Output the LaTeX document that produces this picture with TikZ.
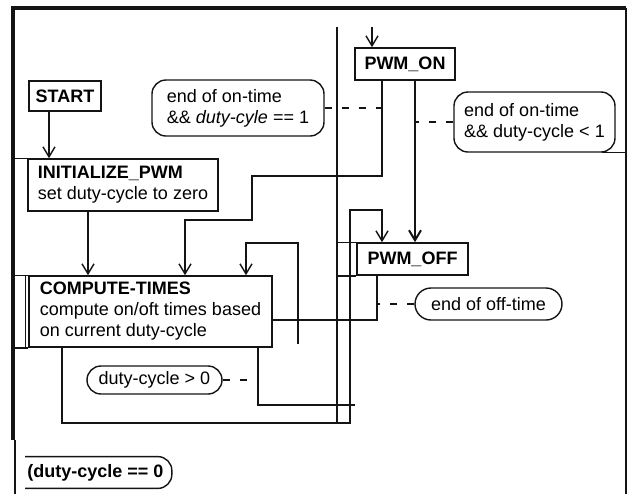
\documentclass[tikz,border=0pt]{standalone}
\usepackage{fontspec}
\setmainfont{Liberation Sans}
\usetikzlibrary{arrows.meta,calc}
\definecolor{ink}{RGB}{20,20,20}

\begin{document}
\begin{tikzpicture}[
  x=0.5pt,y=-0.5pt,
  font=\fontsize{9}{10.5}\selectfont,
  state/.style={rectangle,draw=ink,line width=0.8pt,align=left,inner sep=2pt},
  guard/.style={rectangle,rounded corners=7pt,draw=ink,line width=0.7pt,align=left,inner sep=2pt},
  arrow/.style={-{Straight Barb[length=5pt,width=6pt]},line width=0.7pt,draw=ink},
  wire/.style={line width=0.7pt,draw=ink},
  hint/.style={draw=ink,line width=0.6pt,dash pattern=on 3.5pt off 5pt}
]
\useasboundingbox (0,0) rectangle (628,494);

% frame
\draw[ink,line width=2pt] (13,440) -- (13,8) -- (626,8);
\draw[ink,line width=1pt] (626,8) -- (626,494);
\draw[ink,line width=0.8pt] (15,440) -- (15,494);

% states
\node[state,minimum width=36pt,minimum height=15pt,align=center] (start) at (65,96) {\bfseries START};
\node[state,minimum width=95pt,minimum height=26pt] (init) at (123,185) {\textbf{INITIALIZE\_PWM}\\set duty-cycle to zero};
\node[state,minimum width=121.5pt,minimum height=35.5pt] (compute) at (150.5,311.5) {\textbf{COMPUTE-TIMES}\\compute on/oft times based\\on current duty-cycle};
\node[state,minimum width=50pt,minimum height=16pt,align=center] (on) at (405,64) {\bfseries PWM\_ON};
\node[state,minimum width=55.5pt,minimum height=16pt,align=center] (off) at (412.5,259) {\bfseries PWM\_OFF};

% guards
\node[guard,minimum width=86pt,minimum height=28pt] (full) at (238,108) {end of on-time\\\&\& \textit{duty-cyle} == 1};
\node[guard,minimum width=80.5pt,minimum height=30pt] (part) at (534.5,122) {end of on-time\\\&\& duty-cycle < 1};
\node[guard,minimum width=73.5pt,minimum height=16pt,rounded corners=8pt] (offtime) at (488.5,304) {end of off-time};
\node[guard,minimum width=67.5pt,minimum height=14pt] (nonzero) at (154.5,380) {duty-cycle > 0};
\node[anchor=west,inner xsep=4pt,minimum height=15.5pt,font=\fontsize{9}{10.5}\selectfont\bfseries] (zero) at (19,472.5) {(duty-cycle == 0};
\draw[wire,rounded corners=7pt] ([xshift=3pt]zero.north west) -| (zero.south east) -- ([xshift=3pt]zero.south west);

% box edges carried out to the lanes
\draw[wire] (init.north west) -- (init.north west -| 13,0);
\draw[wire] (compute.north west) -- (compute.north west -| 13,0);
\draw[wire] (compute.south west) -- (compute.south west -| 13,0);
\draw[wire] ([xshift=-1.5pt]compute.north west) -- ([xshift=-1.5pt]compute.south west);
\draw[wire] (off.north west) -- (off.north west -| 337,0);
\draw[wire] (off.south west) -- (off.south west -| 337,0);
\draw[wire] ([xshift=-7pt]part.south east) -- (part.south east -| 626,0);

% transitions
\coordinate (entry) at (372,27);
\draw[arrow] (start.south -| 49,0) -- (init.north -| 49,0);
\draw[arrow] (init.south -| 88,0) -- (compute.north -| 88,0);
\draw[arrow] (entry) -- (on.north -| entry);
\draw[wire] (entry -| 337,0) -- (337,423);
\draw[arrow] (on.south -| 382,0) -- (382,176) -- (252,176) -- (252,220) -- (185,220) -- (compute.north -| 185,0);
\draw[arrow,line width=1pt] (on.south -| 415,0) -- (off.north -| 415,0);
\draw[arrow] (compute.south -| 62,0) -- (62,423) -- (350,423) -- (350,210) -- (382,210) -- (off.north -| 382,0);
\draw[wire] (compute.south -| 258,0) -- (258,405) -- (355,405);
\draw[wire] (off.south -| 377,0) -- (377,320) -- (compute.east |- 0,320);
\draw[arrow] (298,344) -- (298,243) -- (246,243) -- (compute.north -| 246,0);

% guard hints
\draw[hint] (full.east) -- (full.east -| 382,0);
\draw[hint] (part.west) -- (part.west -| 415,0);
\draw[hint] (offtime.west) -- (offtime.west -| 377,0);
\draw[hint] (nonzero.east) -- (nonzero.east -| 258,0);
\end{tikzpicture}
\end{document}
